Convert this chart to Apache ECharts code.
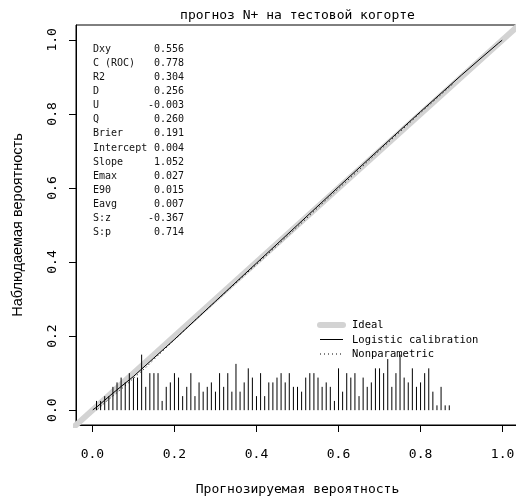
<!DOCTYPE html>
<html><head><meta charset="utf-8">
<script src="https://cdn.jsdelivr.net/npm/echarts@6/dist/echarts.min.js"></script>
<style>html,body{margin:0;padding:0;background:#fff}#c{width:516px;height:498px}</style>
</head><body><div id="c"></div>
<script>
const titleText = 'прогноз N+ на тестовой когорте';
const xAxisName = 'Прогнозируемая вероятность';
const yAxisName = 'Наблюдаемая вероятность';
const tickValues = [0, 0.2, 0.4, 0.6, 0.8, 1.0];
const tickLabels = ['0.0', '0.2', '0.4', '0.6', '0.8', '1.0'];
const statNames = ['Dxy', 'C (ROC)', 'R2', 'D', 'U', 'Q', 'Brier', 'Intercept', 'Slope', 'Emax', 'E90', 'Eavg', 'S:z', 'S:p'];
const statValues = ['0.556', '0.778', '0.304', '0.256', '-0.003', '0.260', '0.191', '0.004', '1.052', '0.027', '0.015', '0.007', '-0.367', '0.714'];
const legendNames = ['Ideal', 'Logistic calibration', 'Nonparametric'];
const idealLine = [[-0.1, -0.1], [1.1, 1.1]];
const logisticCal = [[0.001, 0.001], [0.01, 0.008], [0.03, 0.027], [0.05, 0.046], [0.1, 0.091], [0.15, 0.141], [0.2, 0.191], [0.3, 0.294], [0.4, 0.397], [0.5, 0.500], [0.6, 0.603], [0.7, 0.705], [0.8, 0.806], [0.9, 0.905], [0.95, 0.953], [0.99, 0.991], [0.999, 0.999]];
const nonparametric = [[0.013, 0.002], [0.03, 0.020], [0.05, 0.038], [0.08, 0.066], [0.10, 0.086], [0.13, 0.115], [0.16, 0.148], [0.20, 0.190], [0.25, 0.243], [0.30, 0.293], [0.35, 0.344], [0.40, 0.394], [0.45, 0.444], [0.50, 0.495], [0.55, 0.547], [0.60, 0.598], [0.65, 0.649], [0.70, 0.701], [0.75, 0.752], [0.80, 0.803], [0.85, 0.852], [0.88, 0.882]];
const spikeX = [0.01, 0.02, 0.03, 0.04, 0.05, 0.06, 0.07, 0.08, 0.09, 0.10,
  0.11, 0.12, 0.13, 0.14, 0.15, 0.16, 0.17, 0.18, 0.19, 0.20,
  0.21, 0.22, 0.23, 0.24, 0.25, 0.26, 0.27, 0.28, 0.29, 0.30,
  0.31, 0.32, 0.33, 0.34, 0.35, 0.36, 0.37, 0.38, 0.39, 0.40,
  0.41, 0.42, 0.43, 0.44, 0.45, 0.46, 0.47, 0.48, 0.49, 0.50,
  0.51, 0.52, 0.53, 0.54, 0.55, 0.56, 0.57, 0.58, 0.59, 0.60,
  0.61, 0.62, 0.63, 0.64, 0.65, 0.66, 0.67, 0.68, 0.69, 0.70,
  0.71, 0.72, 0.73, 0.74, 0.75, 0.76, 0.77, 0.78, 0.79, 0.80,
  0.81, 0.82, 0.83, 0.84, 0.85, 0.86, 0.87];
const spikeHeights = [0.025, 0.025, 0.038, 0.038, 0.063, 0.075, 0.088, 0.075, 0.100, 0.088,
  0.088, 0.150, 0.063, 0.100, 0.100, 0.100, 0.025, 0.063, 0.075, 0.100,
  0.088, 0.038, 0.063, 0.100, 0.038, 0.075, 0.050, 0.063, 0.075, 0.050,
  0.100, 0.063, 0.100, 0.050, 0.125, 0.050, 0.075, 0.113, 0.088, 0.038,
  0.100, 0.038, 0.075, 0.075, 0.088, 0.100, 0.075, 0.100, 0.063, 0.063,
  0.050, 0.088, 0.100, 0.100, 0.088, 0.063, 0.075, 0.063, 0.025, 0.113,
  0.050, 0.100, 0.088, 0.100, 0.038, 0.088, 0.063, 0.075, 0.113, 0.113,
  0.100, 0.138, 0.063, 0.100, 0.150, 0.088, 0.075, 0.113, 0.063, 0.075,
  0.100, 0.113, 0.050, 0.013, 0.063, 0.013, 0.013];

const mono = 'DejaVu Sans Mono';
const spikeData = spikeX.map((x, i) => [x, spikeHeights[i]]);
function tickLabel(v) {
  let best = 0;
  tickValues.forEach((t, i) => { if (Math.abs(t - v) < Math.abs(tickValues[best] - v)) best = i; });
  return tickLabels[best];
}
const legendStyles = [
  {stroke: '#d3d3d3', lineWidth: 6, lineCap: 'round'},
  {stroke: '#000', lineWidth: 1},
  {stroke: '#000', lineWidth: 1, lineDash: [1, 3]}
];
const legendGraphics = [];
legendNames.forEach((name, i) => {
  const y = 325 + i * 14.5;
  legendGraphics.push({type: 'line', shape: {x1: 320, y1: y, x2: 343, y2: y}, style: legendStyles[i], z: 10});
  legendGraphics.push({type: 'text', style: {text: name, x: 352, y: y + 0.5, textAlign: 'left', textVerticalAlign: 'middle', font: '10.5px "DejaVu Sans Mono"', fill: '#000'}, z: 10});
});

const chart = echarts.init(document.getElementById('c'), null, {renderer: 'canvas'});
chart.setOption({
  animation: false,
  backgroundColor: '#fff',
  grid: {left: 76, top: 25, width: 443, height: 400, show: true, borderColor: '#000', borderWidth: 1, backgroundColor: 'transparent', containLabel: false, outerBoundsMode: 'none'},
  xAxis: {
    type: 'value', min: -0.04, max: 1.04,
    axisLine: {show: true, onZero: false, lineStyle: {color: '#000', width: 1}},
    axisTick: {show: true, length: 7, customValues: tickValues, lineStyle: {color: '#000'}},
    axisLabel: {customValues: tickValues, formatter: tickLabel, margin: 23, fontFamily: mono, fontSize: 13, color: '#000'},
    splitLine: {show: false},
    name: xAxisName, nameLocation: 'middle', nameGap: 58,
    nameTextStyle: {fontFamily: mono, fontSize: 13, color: '#000'}
  },
  yAxis: {
    type: 'value', min: -0.04, max: 1.04,
    axisLine: {show: true, onZero: false, lineStyle: {color: '#000', width: 1}},
    axisTick: {show: true, length: 7, customValues: tickValues, lineStyle: {color: '#000'}},
    axisLabel: {customValues: tickValues, formatter: tickLabel, rotate: 90, margin: 17, fontFamily: mono, fontSize: 13, color: '#000'},
    splitLine: {show: false},
    name: yAxisName, nameLocation: 'middle', nameGap: 51,
    nameTextStyle: {fontFamily: 'Liberation Sans', fontSize: 14.5, color: '#000'}
  },
  graphic: [
    {type: 'text', style: {text: titleText, x: 297.5, y: 16, textAlign: 'center', textVerticalAlign: 'middle', font: '13px "DejaVu Sans Mono"', fill: '#000'}},
    {type: 'text', style: {text: statNames.join('\n'), x: 93, y: 42, textAlign: 'left', lineHeight: 14.13, font: '10px "DejaVu Sans Mono"', fill: '#111'}},
    {type: 'text', style: {text: statValues.join('\n'), x: 184, y: 42, textAlign: 'right', lineHeight: 14.13, font: '10px "DejaVu Sans Mono"', fill: '#111'}}
  ].concat(legendGraphics),
  series: [
    {name: 'Ideal', type: 'line', data: idealLine, symbol: 'none', clip: true, lineStyle: {color: '#d3d3d3', width: 6, cap: 'butt'}, z: 1},
    {name: 'Logistic calibration', type: 'line', data: logisticCal, symbol: 'none', clip: true, lineStyle: {color: '#000', width: 1}, z: 2},
    {name: 'Nonparametric', type: 'line', data: nonparametric, symbol: 'none', clip: true, lineStyle: {color: '#000', width: 1, type: [1, 3]}, z: 3},
    {name: 'spikes', type: 'custom', data: spikeData, z: 4, clip: true,
      renderItem: function (params, api) {
        const x = api.value(0), h = api.value(1);
        const p0 = api.coord([x, 0]), p1 = api.coord([x, h]);
        return {type: 'line', shape: {x1: p0[0], y1: p0[1], x2: p1[0], y2: p1[1]}, style: {stroke: '#000', lineWidth: 1}};
      }
    }
  ]
});
</script></body></html>
